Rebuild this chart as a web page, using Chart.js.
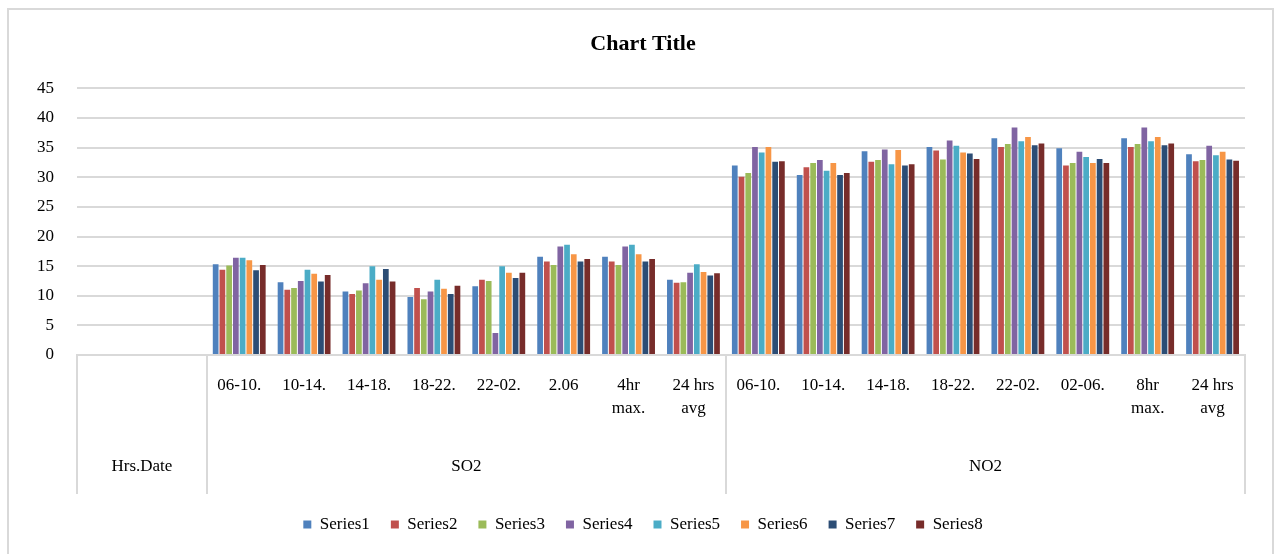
<!DOCTYPE html>
<html>
<head>
<meta charset="utf-8">
<script src="https://cdn.jsdelivr.net/npm/chart.js@4"></script>
<style>
  html, body { margin: 0; padding: 0; background: #fff; overflow: hidden; }
  #frame { position: absolute; left: 7px; top: 8px; width: 1267px; height: 600px;
           border: 2px solid #d9d9d9; box-sizing: border-box; }
  #wrap { position: absolute; left: 0; top: 0; width: 1274px; height: 554px; }
</style>
</head>
<body>
<div id="frame"></div>
<div id="wrap"><canvas id="c" width="1274" height="554"></canvas></div>
<script>
// Lower category level (hour slots), upper level groups (pollutant)
const hourLabels = [
  '', '',
  '06-10.', '10-14.', '14-18.', '18-22.', '22-02.', '2.06', ['4hr', 'max.'], ['24 hrs', 'avg'],
  '06-10.', '10-14.', '14-18.', '18-22.', '22-02.', '02-06.', ['8hr', 'max.'], ['24 hrs', 'avg']
];
const groupLabels = ['Hrs.Date', 'SO2', 'NO2'];
const groupSizes = [2, 8, 8];

const yTicks = { min: 0, max: 45, step: 5 };

const seriesNames = ['Series1', 'Series2', 'Series3', 'Series4', 'Series5', 'Series6', 'Series7', 'Series8'];
const seriesColors = ['#4F81BD', '#C0504D', '#9BBB59', '#8064A2', '#4BACC6', '#F79646', '#2C4D75', '#772C2A'];

const series1 = [null, null, 15.3, 12.3, 10.7, 9.8, 11.6, 16.6, 16.6, 12.7, 32.0, 30.4, 34.4, 35.1, 36.6, 34.9, 36.6, 33.9];
const series2 = [null, null, 14.4, 11.0, 10.3, 11.3, 12.7, 15.8, 15.8, 12.2, 30.1, 31.7, 32.6, 34.5, 35.1, 32.0, 35.1, 32.7];
const series3 = [null, null, 15.1, 11.3, 10.9, 9.4, 12.5, 15.2, 15.2, 12.3, 30.7, 32.4, 32.9, 33.0, 35.6, 32.4, 35.6, 32.9];
const series4 = [null, null, 16.4, 12.5, 12.1, 10.7, 3.7, 18.3, 18.3, 13.9, 35.1, 32.9, 34.7, 36.2, 38.4, 34.3, 38.4, 35.3];
const series5 = [null, null, 16.4, 14.4, 15.0, 12.7, 15.0, 18.6, 18.6, 15.3, 34.2, 31.1, 32.2, 35.3, 36.1, 33.4, 36.1, 33.7];
const series6 = [null, null, 16.0, 13.7, 12.7, 11.2, 13.9, 17.0, 17.0, 14.0, 35.1, 32.4, 34.6, 34.2, 36.8, 32.4, 36.8, 34.3];
const series7 = [null, null, 14.3, 12.4, 14.5, 10.3, 13.0, 15.8, 15.8, 13.4, 32.6, 30.4, 32.0, 34.0, 35.4, 33.1, 35.4, 33.0];
const series8 = [null, null, 15.2, 13.5, 12.4, 11.7, 13.9, 16.2, 16.2, 13.8, 32.7, 30.7, 32.2, 33.1, 35.7, 32.4, 35.7, 32.8];
const seriesValues = [series1, series2, series3, series4, series5, series6, series7, series8];

const FONT = "'Liberation Serif', 'Times New Roman', serif";
const LINE = '#d9d9d9';

// Draws the group row under the hour labels plus the separator lines
const groupAxisPlugin = {
  id: 'groupAxis',
  afterDraw(chart) {
    const x = chart.scales.x;
    const ctx = chart.ctx;
    const n = hourLabels.length;
    const w = (x.right - x.left) / n;
    const top = x.top;
    const bottom = top + 139;
    ctx.save();
    ctx.strokeStyle = LINE;
    ctx.lineWidth = 2;
    let start = 0;
    const edges = [0];
    groupSizes.forEach(s => { start += s; edges.push(start); });
    edges.forEach(e => {
      const px = Math.round(x.left + e * w);
      ctx.beginPath();
      ctx.moveTo(px, top);
      ctx.lineTo(px, bottom);
      ctx.stroke();
    });
    ctx.fillStyle = '#000';
    ctx.font = '17px ' + FONT;
    ctx.textAlign = 'center';
    ctx.textBaseline = 'middle';
    groupLabels.forEach((g, i) => {
      const cx = x.left + (edges[i] + edges[i + 1]) / 2 * w;
      ctx.fillText(g, cx, top + 112);
    });
    ctx.restore();
  }
};

new Chart(document.getElementById('c'), {
  type: 'bar',
  data: {
    labels: hourLabels,
    datasets: seriesNames.map((name, i) => ({
      label: name,
      data: seriesValues[i],
      backgroundColor: seriesColors[i],
      borderWidth: 0,
      categoryPercentage: 0.83,
      barPercentage: 0.85
    }))
  },
  options: {
    responsive: false,
    animation: false,
    layout: { padding: { left: 12, right: 0, top: 0, bottom: 11 } },
    plugins: {
      title: {
        display: true,
        text: 'Chart Title',
        color: '#000',
        font: { family: FONT, size: 22, weight: 'bold' },
        padding: { top: 31, bottom: 31 }
      },
      legend: {
        position: 'bottom',
        labels: {
          color: '#000',
          font: { family: FONT, size: 17 },
          boxWidth: 8,
          boxHeight: 8,
          padding: 21,
          useBorderRadius: false
        }
      },
      tooltip: { enabled: false }
    },
    scales: {
      x: {
        offset: true,
        grid: { display: false, drawTicks: false },
        border: { display: true, color: LINE, width: 2 },
        ticks: {
          color: '#000',
          font: { family: FONT, size: 17, lineHeight: 1.35 },
          padding: 19,
          maxRotation: 0,
          autoSkip: false
        },
        afterFit(scale) { scale.height = 140; }
      },
      y: {
        min: yTicks.min,
        max: yTicks.max,
        grid: { color: LINE, lineWidth: 2, drawTicks: false },
        border: { display: false },
        ticks: {
          stepSize: yTicks.step,
          color: '#000',
          font: { family: FONT, size: 17 },
          padding: 23
        },
        afterFit(scale) { scale.width = 65; }
      },
      // empty right-hand margin beside the plot
      yRight: {
        position: 'right',
        min: yTicks.min,
        max: yTicks.max,
        grid: { display: false, drawTicks: false },
        border: { display: false },
        ticks: { display: false },
        afterFit(scale) { scale.width = 29; }
      }
    }
  },
  plugins: [groupAxisPlugin]
});
</script>
</body>
</html>
